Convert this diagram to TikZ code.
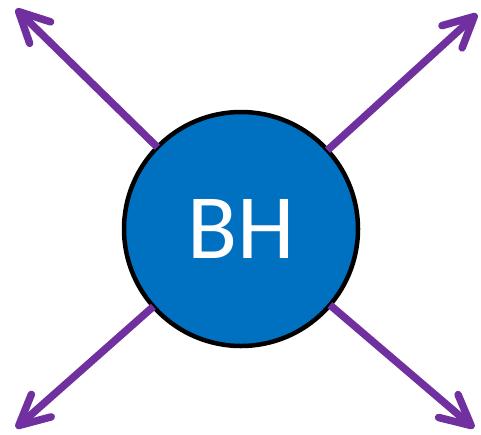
\documentclass[tikz,border=0pt]{standalone}
\usepackage{fontspec}
\setmainfont{Carlito}
\usetikzlibrary{arrows.meta}
\definecolor{bhblue}{HTML}{0070C0}
\definecolor{bhpurple}{HTML}{7030A0}
\tikzset{
  bh/.style={circle, draw=black, line width=4.5pt, fill=bhblue, minimum size=234pt, inner sep=0pt, outer sep=0pt, text=white, font=\fontsize{92}{92}\selectfont},
  ray/.style={draw=bhpurple, line width=7.5pt, -{Straight Barb[length=30pt, width=30pt, round]}}
}
\begin{document}
\begin{tikzpicture}[x=1pt,y=-1pt]
\useasboundingbox (0,0) rectangle (481,434);
\node[bh] (c) at (241,229) {BH};
\coordinate (tl) at (16,9);
\coordinate (tr) at (477,14);
\coordinate (bl) at (16,428);
\coordinate (br) at (474,428);
\draw[ray] (c) -- (tl);
\draw[ray] (c) -- (tr);
\draw[ray] (c) -- (bl);
\draw[ray] (c) -- (br);
\end{tikzpicture}
\end{document}
